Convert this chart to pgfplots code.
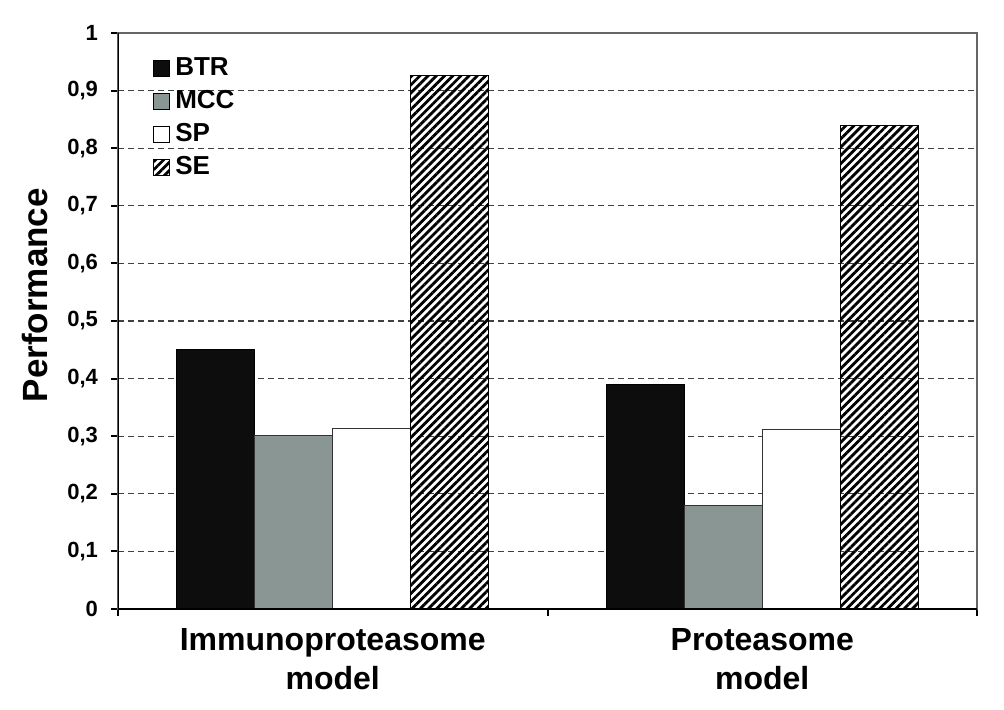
\documentclass[border=0pt]{standalone}
\usepackage{fontspec}
\setmainfont{Liberation Sans}
\usepackage{pgfplots}
\pgfplotsset{compat=1.18}
\usetikzlibrary{patterns.meta}
\definecolor{mccgray}{RGB}{138,150,147}
\begin{document}
\begin{tikzpicture}
\useasboundingbox (-59pt,-50pt) rectangle (443pt,304.5pt);
\begin{axis}[
  scale only axis, width=429.5pt, height=288pt,
  at={(0pt,0pt)}, anchor=south west,
  ybar=0pt, bar width=39pt,
  xmin=-0.5, xmax=1.5, ymin=0, ymax=1,
  xtick={-0.5,0.5,1.5}, xticklabels={},
  extra x ticks={0,1},
  extra x tick labels={{Immunoproteasome\\model},{Proteasome\\model}},
  extra x tick style={major tick length=0pt, tick style={draw=none}},
  x tick label style={align=center, yshift=-6pt, font=\fontsize{16}{19.5}\selectfont\bfseries},
  ytick={0,0.1,0.2,0.3,0.4,0.5,0.6,0.7,0.8,0.9,1},
  yticklabel style={xshift=-3pt, font=\fontsize{11}{13}\selectfont\bfseries},
  /pgf/number format/.cd, use comma, fixed, precision=1, assume math mode=true,
  /pgfplots/.cd,
  ymajorgrids,
  grid style={black!75, line width=0.6pt, dash pattern=on 3pt off 2pt},
  axis line style={black!60, line width=0.8pt},
  tick style={black, line width=1pt},
  tick align=outside, major tick length=3.5pt,
  xtick pos=bottom, ytick pos=left,
  ylabel={Performance},
  ylabel style={at={(axis description cs:-0.0966,0.545)}, anchor=center, font=\fontsize{17.5}{20}\selectfont\bfseries},
  legend style={at={(0.04,0.967)}, anchor=north west, draw=none, fill=none,
    font=\fontsize{13}{16}\selectfont\bfseries, row sep=0pt, inner sep=0pt,
    nodes={text height=10pt, text depth=3pt, inner sep=1.75pt}},
  legend cell align=left,
  every axis plot post/.append style={legend image code/.code={\draw[##1, draw=black, line width=0.5pt] (0pt,-4pt) rectangle (8pt,4pt);}},
]
\addplot[fill=black!95, draw=black, line width=0.5pt] coordinates {(0,0.45) (1,0.39)};
\addplot[fill=mccgray, draw=black!80, line width=0.5pt] coordinates {(0,0.301) (1,0.179)};
\addplot[fill=white, draw=black!80, line width=0.5pt] coordinates {(0,0.313) (1,0.311)};
\addplot[pattern={Lines[angle=45,distance=2.9pt,line width=1.4pt]}, draw=black, line width=0.5pt] coordinates {(0,0.927) (1,0.84)};
\legend{\hspace{1pt}BTR,\hspace{1pt}MCC,\hspace{1pt}SP,\hspace{1pt}SE}
\draw[black, line width=1.2pt] (rel axis cs:0,1) -- (rel axis cs:0,0) -- (rel axis cs:1,0);
\end{axis}
\end{tikzpicture}
\end{document}
